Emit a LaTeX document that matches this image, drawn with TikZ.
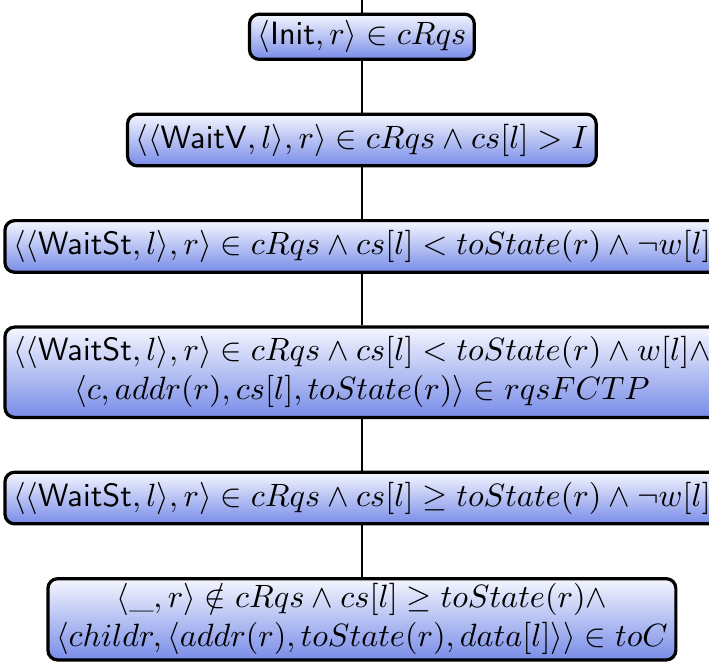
\documentclass[tikz,border=0pt]{standalone}
\usepackage{amsmath}
\usepackage{amssymb}
\usepackage{tikz}
\usetikzlibrary{matrix}
\definecolor{condtop}{RGB}{244,246,254}
\definecolor{condmid}{RGB}{202,210,246}
\definecolor{condbot}{RGB}{120,140,232}

\begin{document}
\begin{tikzpicture}[cond/.style={draw, line width=1pt, rounded corners=3pt, top color=condtop, middle color=condmid, bottom color=condbot, inner xsep=2.5pt, inner ysep=2pt, minimum height=16pt}]
        \useasboundingbox (0,0) rectangle (219.8pt,-208pt);
        \node (m) [matrix of math nodes, inner sep=0pt, row sep=16pt, nodes={cond}, anchor=north] at (112.2pt,-3.7pt) {
            |[minimum height=0pt]| \langle \mathsf{Init}, r\rangle \in cRqs \\
            \langle\langle \mathsf{WaitV}, l\rangle, r\rangle \in cRqs \wedge cs[l] > I \\
            \langle\langle \mathsf{WaitSt}, l\rangle, r\rangle \in cRqs \wedge cs[l] < toState(r) \wedge \neg w[l] \\
            \begin{array}{@{}c@{}} \langle\langle \mathsf{WaitSt}, l\rangle, r\rangle \in cRqs \wedge cs[l] < toState(r) \wedge w[l] \wedge \\ \langle c, addr(r), cs[l], toState(r)\rangle \in rqsFCTP \end{array} \\
            \langle\langle \mathsf{WaitSt}, l\rangle, r\rangle \in cRqs \wedge cs[l] \geq toState(r) \wedge \neg w[l] \\
            |[inner ysep=0.6pt]| \begin{array}{@{}c@{}} \langle \_, r\rangle \notin cRqs \wedge cs[l] \geq toState(r) \wedge \\ \langle childr, \langle addr(r), toState(r), data[l]\rangle\rangle \in toC \end{array} \\
        };
        \coordinate (top) at (112.2pt,0);
        \draw [line width=0.6pt] (top) -- (m-1-1);
        \draw [line width=0.6pt] (m-1-1) -- (m-2-1);
        \draw [line width=0.6pt] (m-2-1) -- (m-3-1);
        \draw [line width=0.6pt] (m-3-1) -- (m-4-1);
        \draw [line width=0.6pt] (m-4-1) -- (m-5-1);
        \draw [line width=0.6pt] (m-5-1) -- (m-6-1);
    \end{tikzpicture}
\end{document}
